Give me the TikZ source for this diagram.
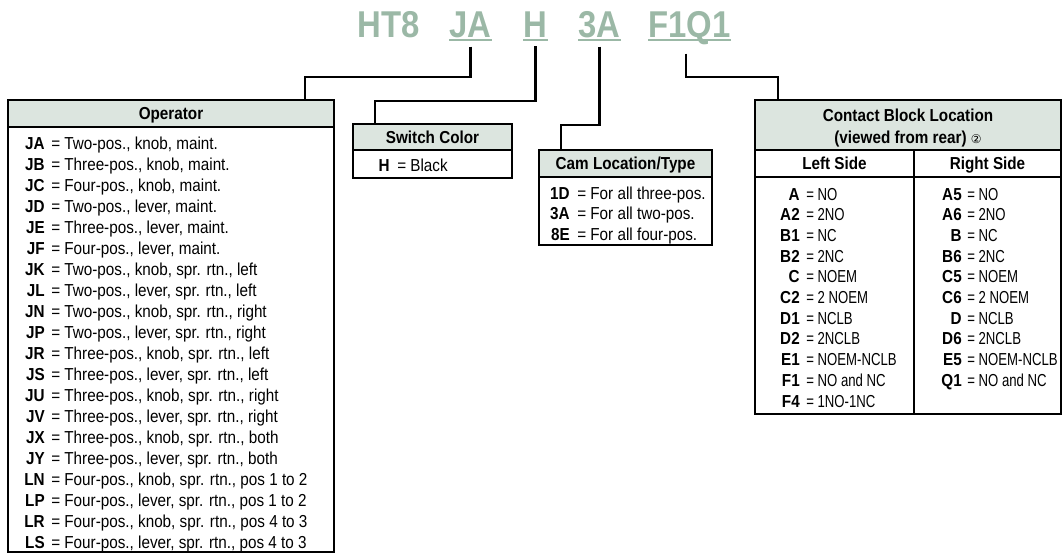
\documentclass[tikz,border=0pt]{standalone}
\usepackage{fontspec}
\setmainfont{Liberation Sans}[FakeStretch=0.88]
\newfontfamily\narrowfont{Liberation Sans}[FakeStretch=0.76]
\newfontfamily\circfont{DejaVu Sans}
\usetikzlibrary{fit}
\definecolor{titlegreen}{RGB}{155,184,166}
\definecolor{hdrgreen}{RGB}{220,229,223}
\newcommand\rowfs{\fontsize{13}{15}\selectfont}
\tikzset{
  code/.style={font=\rowfs\bfseries, inner sep=0pt, anchor=base east},
  desc/.style={font=\rowfs, inner sep=0pt, anchor=base west},
  ndesc/.style={font=\rowfs\narrowfont, inner sep=0pt, anchor=base west},
  hdrtxt/.style={font=\rowfs\bfseries, inner sep=0pt, anchor=base},
  boxfr/.style={draw, line width=1.1pt, inner sep=0pt},
  conn/.style={line width=1.7pt},
  sepline/.style={line width=0.8pt},
  ttl/.style={font=\fontsize{28}{30}\selectfont\bfseries, text=titlegreen, inner sep=0pt, anchor=base},
  uline/.style={draw=titlegreen, line width=1.9pt}
}
\begin{document}
\begin{tikzpicture}[x=0.75pt,y=-0.75pt]
\useasboundingbox (0,0) rectangle (1063,558);

% ---------- title ----------
\node[ttl] (tHT) at (388.5,37) {HT8};
\node[ttl] (tJA) at (470.5,37) {JA};
\node[ttl] (tH)  at (535.5,37) {H};
\node[ttl] (t3A) at (599.5,37) {3A};
\node[ttl] (tF)  at (689.5,37) {F1Q1};
\foreach \n in {tJA,tH,t3A,tF}{
  \draw[uline] ([yshift=-2.4pt]\n.base west) -- ([yshift=-2.4pt]\n.base east);
}

% ---------- header fills ----------
\fill[hdrgreen] (8,100) rectangle (334,127);
\fill[hdrgreen] (353,124) rectangle (512,150);
\fill[hdrgreen] (539,150) rectangle (712,177);
\fill[hdrgreen] (755,100) rectangle (1061,150);

% ---------- boxes ----------
\node[boxfr, fit={(8,100) (334,552)}] (op) {};
\node[boxfr, fit={(353,124) (512,178)}] (sw) {};
\node[boxfr, fit={(539,150) (712,245)}] (cam) {};
\node[boxfr, fit={(755,100) (1061,414)}] (cb) {};

\draw[sepline] (8,127) -- (334,127);
\draw[sepline] (353,150) -- (512,150);
\draw[sepline] (539,177) -- (712,177);
\draw[sepline] (755,150) -- (1061,150);
\draw[sepline] (755,177) -- (1061,177);
\draw[sepline] (914,150) -- (914,414);

% ---------- headers ----------
\node[hdrtxt] (hop) at (171,119) {Operator};
\node[hdrtxt] (hsw) at (432.5,143) {Switch Color};
\node[hdrtxt] (hcam) at (625.5,169.5) {Cam Location/Type};
\node[hdrtxt] (hcb1) at (908,121) {Contact Block Location};
\node[hdrtxt] (hcb2) at (908,143) {(viewed from rear) {\circfont\mdseries\fontsize{9}{9}\selectfont ②}};
\node[hdrtxt] (hl) at (834.5,169.5) {Left Side};
\node[hdrtxt] (hr) at (987.5,169.5) {Right Side};

% ---------- operator rows ----------
\foreach \c/\t [count=\i] in {
  JA/{Two-pos., knob, maint.},
  JB/{Three-pos., knob, maint.},
  JC/{Four-pos., knob, maint.},
  JD/{Two-pos., lever, maint.},
  JE/{Three-pos., lever, maint.},
  JF/{Four-pos., lever, maint.},
  JK/{Two-pos., knob, spr. rtn., left},
  JL/{Two-pos., lever, spr. rtn., left},
  JN/{Two-pos., knob, spr. rtn., right},
  JP/{Two-pos., lever, spr. rtn., right},
  JR/{Three-pos., knob, spr. rtn., left},
  JS/{Three-pos., lever, spr. rtn., left},
  JU/{Three-pos., knob, spr. rtn., right},
  JV/{Three-pos., lever, spr. rtn., right},
  JX/{Three-pos., knob, spr. rtn., both},
  JY/{Three-pos., lever, spr. rtn., both},
  LN/{Four-pos., knob, spr. rtn., pos 1 to 2},
  LP/{Four-pos., lever, spr. rtn., pos 1 to 2},
  LR/{Four-pos., knob, spr. rtn., pos 4 to 3},
  LS/{Four-pos., lever, spr. rtn., pos 4 to 3}}{
  \node[code] (opc\i) at (45,{149+21*(\i-1)}) {\c};
  \node[desc] (opt\i) at (51,{149+21*(\i-1)}) {= \t};
}

% ---------- switch colour ----------
\node[code] (swc1) at (390,171) {H};
\node[desc] (swt1) at (397,171) {= Black};

% ---------- cam ----------
\foreach \c/\t [count=\i] in {1D/{For all three-pos.}, 3A/{For all two-pos.}, 8E/{For all four-pos.}}{
  \node[code] (camc\i) at (570,{199+20.5*(\i-1)}) {\c};
  \node[desc] (camt\i) at (577,{199+20.5*(\i-1)}) {= \t};
}

% ---------- contact block ----------
\foreach \c/\t [count=\i] in {A/NO, A2/2NO, B1/NC, B2/2NC, C/NOEM, C2/{2 NOEM}, D1/NCLB, D2/2NCLB, E1/NOEM-NCLB, F1/{NO and NC}, F4/1NO-1NC}{
  \node[code] (lc\i) at (800,{200+20.7*(\i-1)}) {\c};
  \node[ndesc] (lt\i) at (806,{200+20.7*(\i-1)}) {= \t};
}
\foreach \c/\t [count=\i] in {A5/NO, A6/2NO, B/NC, B6/2NC, C5/NOEM, C6/{2 NOEM}, D/NCLB, D6/2NCLB, E5/NOEM-NCLB, Q1/{NO and NC}}{
  \node[code] (rc\i) at (962,{200+20.7*(\i-1)}) {\c};
  \node[ndesc] (rt\i) at (967,{200+20.7*(\i-1)}) {= \t};
}

% ---------- connectors ----------
\coordinate (kJA) at (305,77);
\coordinate (kH)  at (375,101);
\coordinate (k3A) at (561,125);
\coordinate (kF)  at (778,77);
\draw[conn] ([yshift=-6.75pt]tJA.south) |- (kJA) -- (op.north -| kJA);
\draw[conn] ([yshift=-6.75pt]tH.south) |- (kH) -- (sw.north -| kH);
\draw[conn] ([yshift=-6.75pt]t3A.south) |- (k3A) -- (cam.north -| k3A);
\draw[conn] ([xshift=-2.6pt,yshift=-6.75pt]tF.south) |- (kF) -- (cb.north -| kF);
\end{tikzpicture}
\end{document}
